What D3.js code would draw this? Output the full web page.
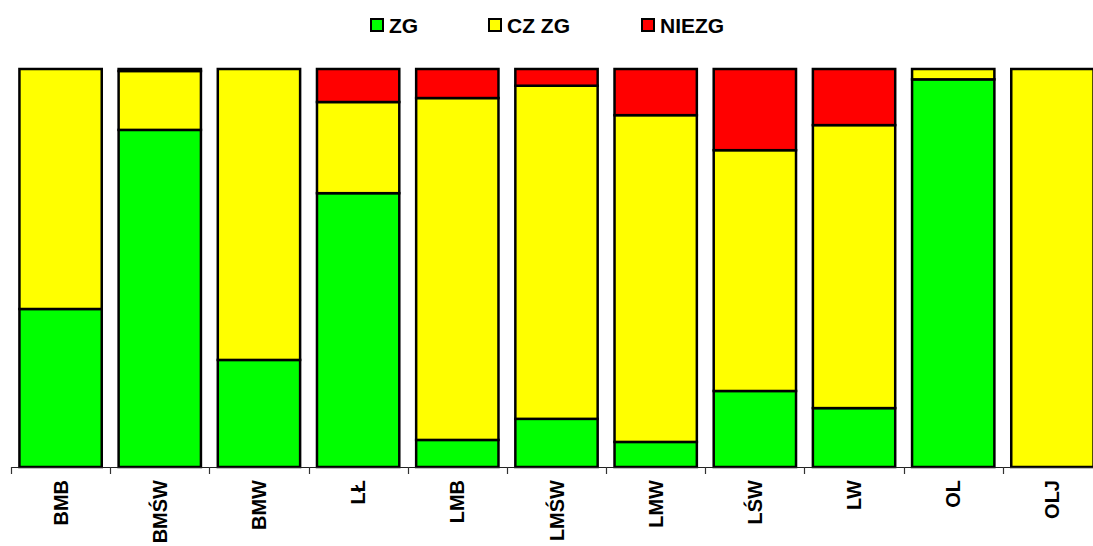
<!DOCTYPE html>
<html>
<head>
<meta charset="utf-8">
<script src="https://cdn.jsdelivr.net/npm/d3@7/dist/d3.min.js"></script>
<style>
  html, body { margin: 0; padding: 0; background: #fff; }
  svg { display: block; font-family: "Liberation Sans", Arial, sans-serif; }
</style>
</head>
<body>
<svg id="chart" width="1093" height="546"></svg>
<script>
// Categories along the x axis
const categories = ["BMB", "BMŚW", "BMW", "LŁ", "LMB", "LMŚW", "LMW", "LŚW", "LW", "OL", "OLJ"];

// Shares (%) of each class per category
const zg    = [39.7, 84.7, 26.9, 68.8,  6.8, 12.1,  6.3, 19.1, 14.8, 97.4,   0];
const czZg  = [60.3, 14.8, 73.1, 22.9, 85.9, 83.7, 82.1, 60.5, 71.1,  2.6, 100];
const niezg = [   0,  0.5,    0,  8.3,  7.3,  4.2, 11.6, 20.4, 14.1,    0,   0];

const seriesNames  = ["ZG", "CZ ZG", "NIEZG"];
const seriesColors = ["#00ff00", "#ffff00", "#ff0000"];

const rows = categories.map((c, i) => ({ cat: c, "ZG": zg[i], "CZ ZG": czZg[i], "NIEZG": niezg[i] }));
const stacked = d3.stack().keys(seriesNames)(rows);

const svg = d3.select("#chart");

const plotTop = 69, plotBottom = 467, plotLeft = 11, plotRight = 1102;

const x = d3.scaleBand()
  .domain(categories)
  .range([plotLeft, plotRight])
  .paddingInner(0.17)
  .paddingOuter(0.085);

const y = d3.scaleLinear().domain([0, 100]).range([plotBottom, plotTop]);

const color = d3.scaleOrdinal().domain(seriesNames).range(seriesColors);

// Stacked bars
svg.append("g")
  .selectAll("g")
  .data(stacked)
  .join("g")
    .attr("fill", d => color(d.key))
  .selectAll("rect")
  .data(d => d.filter(p => p[1] - p[0] > 0))
  .join("rect")
    .attr("x", d => x(d.data.cat))
    .attr("y", d => y(d[1]))
    .attr("width", x.bandwidth())
    .attr("height", d => y(d[0]) - y(d[1]))
    .attr("stroke", "#000")
    .attr("stroke-width", 2.5);

// Category axis with ticks between the bands
const axisG = svg.append("g");
axisG.append("line")
  .attr("x1", plotLeft).attr("x2", plotRight)
  .attr("y1", plotBottom + 0.5).attr("y2", plotBottom + 0.5)
  .attr("stroke", "#222").attr("stroke-width", 1.2);

const step = x.step();
const tickPos = d3.range(categories.length + 1).map(i => plotLeft + i * step);
axisG.selectAll("line.tick")
  .data(tickPos)
  .join("line")
    .attr("class", "tick")
    .attr("x1", d => Math.round(d) + 0.5).attr("x2", d => Math.round(d) + 0.5)
    .attr("y1", plotBottom).attr("y2", plotBottom + 7)
    .attr("stroke", "#333").attr("stroke-width", 1.2);

axisG.selectAll("text")
  .data(categories)
  .join("text")
    .attr("transform", d => `translate(${x(d) + x.bandwidth() / 2},480) rotate(-90)`)
    .attr("text-anchor", "end")
    .attr("dy", "0.35em")
    .attr("font-size", 20)
    .attr("font-weight", "bold")
    .attr("fill", "#000")
    .text(d => d);

// Legend
const legendX = [371, 489, 642];
const legend = svg.append("g")
  .selectAll("g")
  .data(seriesNames)
  .join("g")
    .attr("transform", (d, i) => `translate(${legendX[i]},19)`);

legend.append("rect")
  .attr("width", 12).attr("height", 12)
  .attr("fill", d => color(d))
  .attr("stroke", "#000").attr("stroke-width", 2);

legend.append("text")
  .attr("x", 18).attr("y", 14)
  .attr("font-size", 21)
  .attr("font-weight", "bold")
  .attr("fill", "#000")
  .text(d => d);
</script>
</body>
</html>
